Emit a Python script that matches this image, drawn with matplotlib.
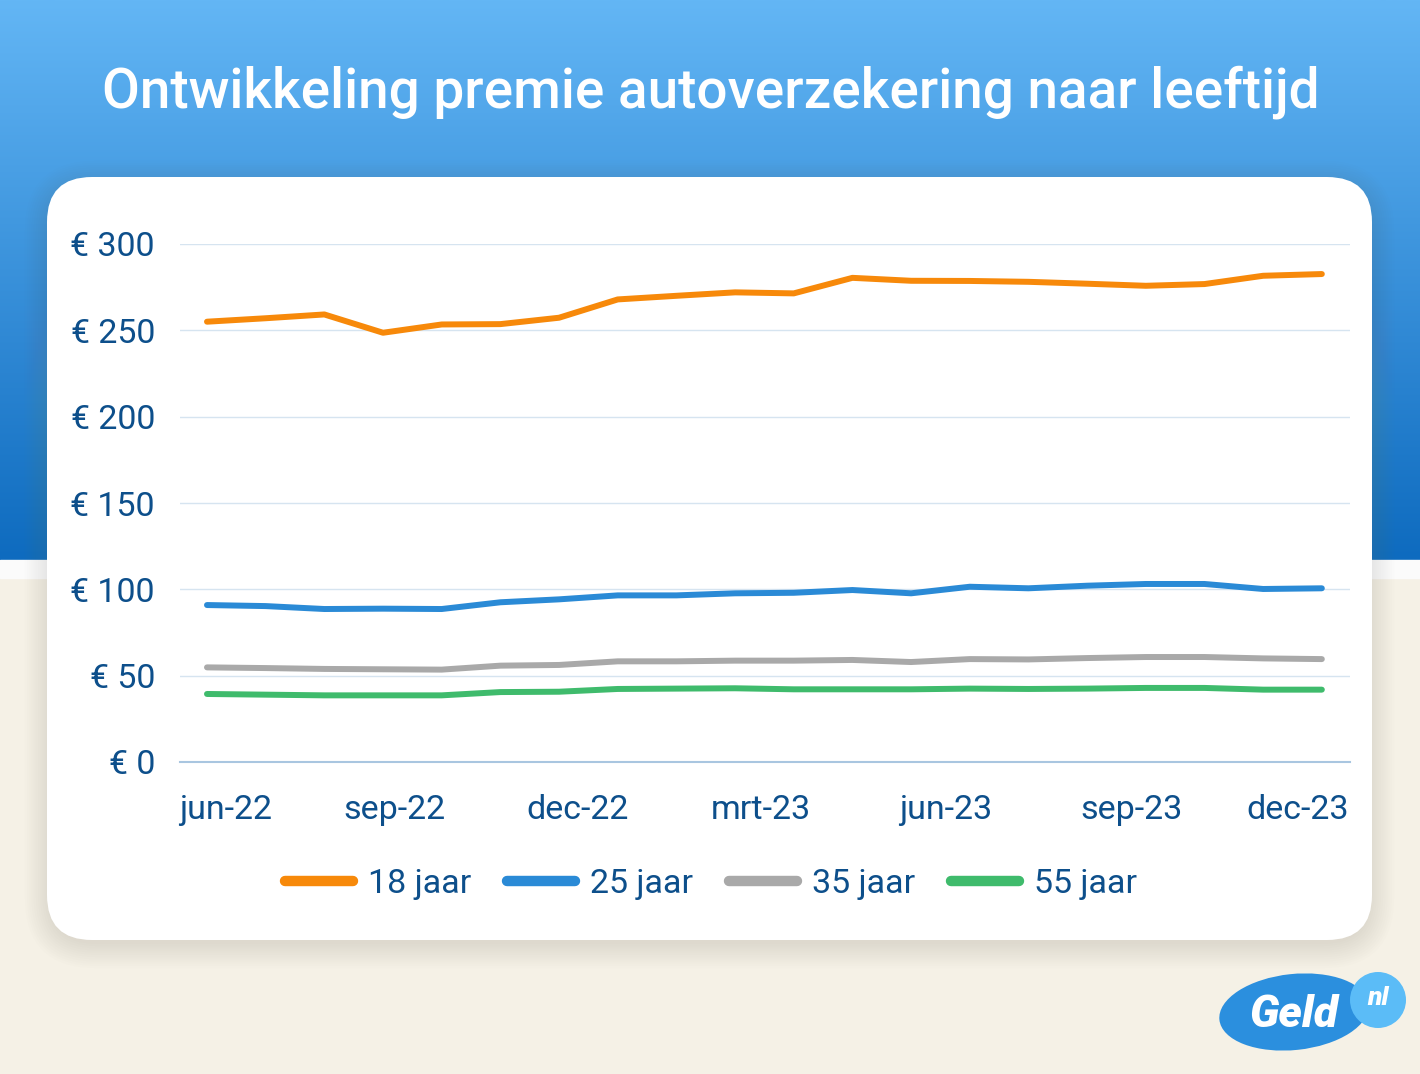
import numpy as np
import matplotlib
matplotlib.use('Agg')
import matplotlib.pyplot as plt
from matplotlib.patches import FancyBboxPatch, Ellipse, Circle

plt.rcParams['font.family'] = ['Roboto', 'DejaVu Sans']

# data
months = np.arange(20)
premie_18 = [255.0, 257.0, 259.2, 248.6, 253.4, 253.6, 257.3, 267.9, 270.0, 272.0,
             271.4, 280.4, 278.7, 278.6, 278.1, 277.0, 275.8, 276.8, 281.6, 282.6]
premie_25 = [90.9, 90.3, 88.6, 88.8, 88.6, 92.5, 94.2, 96.5, 96.5, 97.7,
             98.0, 99.6, 97.7, 101.5, 100.6, 102.1, 103.1, 103.1, 100.2, 100.6]
premie_35 = [54.8, 54.4, 53.9, 53.7, 53.5, 55.8, 56.2, 58.3, 58.3, 58.7,
             58.7, 59.1, 57.9, 59.6, 59.4, 60.2, 60.8, 60.8, 60.0, 59.6]
premie_55 = [39.4, 39.0, 38.6, 38.6, 38.6, 40.5, 40.7, 42.3, 42.5, 42.7,
             42.1, 42.1, 42.1, 42.5, 42.3, 42.5, 42.9, 42.9, 41.9, 41.9]
series = [('18 jaar', premie_18, '#f7890a'),
          ('25 jaar', premie_25, '#2a8ad6'),
          ('35 jaar', premie_35, '#a9a9a9'),
          ('55 jaar', premie_55, '#3fbb6c')]
tick_pos = [0.31, 3.20, 6.32, 9.44, 12.58, 15.75, 18.59]
tick_labels = ['jun-22', 'sep-22', 'dec-22', 'mrt-23', 'jun-23', 'sep-23', 'dec-23']
y_ticks = [0, 50, 100, 150, 200, 250, 300]

W, H = 1420, 1074
fig = plt.figure(figsize=(W / 100, H / 100), dpi=100)

# background in pixel coords
bg = fig.add_axes([0, 0, 1, 1])
bg.set_xlim(0, W)
bg.set_ylim(H, 0)
bg.axis('off')
bg.add_patch(plt.Rectangle((0, 0), W, H, color='#f5f1e6', zorder=0))
grad = np.linspace(0, 1, 256)[:, None]
top = np.array([0x63, 0xb6, 0xf5]) / 255
bot = np.array([0x0e, 0x6b, 0xbf]) / 255
img = top[None, None, :] * (1 - grad[..., None]) + bot[None, None, :] * grad[..., None]
bg.imshow(img, extent=(0, W, 560, 0), aspect='auto', zorder=1)
bg.add_patch(plt.Rectangle((0, 560), W, 18, color='#fbfbfb', zorder=1))

# card shadow + card
for i in range(12):
    g = 2 + i * 2.2
    bg.add_patch(FancyBboxPatch((47 - g + 4, 177 - g + 10), 1325 + 2 * g - 8, 763 + 2 * g - 8,
                                boxstyle='round,pad=0,rounding_size=%d' % (45 + g),
                                fc='#8a8060', ec='none', alpha=0.012, zorder=2))
bg.add_patch(FancyBboxPatch((47, 177), 1325, 763, boxstyle='round,pad=0,rounding_size=45',
                            fc='white', ec='none', zorder=3))

bg.text(711, 92, 'Ontwikkeling premie autoverzekering naar leeftijd', color='white',
        fontsize=39.5, fontweight='medium', ha='center', va='center', zorder=4)

# logo
bg.add_patch(Ellipse((1294, 1012), 150, 76, angle=-6, fc='#2b8fde', ec='none', zorder=4))
bg.add_patch(Circle((1378, 1000), 28, fc='#5bbcf7', ec='none', zorder=5))
bg.text(1294, 1015, 'Geld', color='white', fontsize=32, fontweight='heavy',
        fontstyle='italic', ha='center', va='center', zorder=6)
bg.text(1378, 998, 'nl', color='white', fontsize=19, fontweight='heavy',
        fontstyle='italic', ha='center', va='center', zorder=6)

# chart
ax = fig.add_axes([180 / W, 1 - 762 / H, 1170 / W, 518 / H])
ax.patch.set_alpha(0)
for lab, vals, col in series:
    ax.plot(months, vals, color=col, lw=4.3, solid_capstyle='round', label=lab,
            clip_on=False, zorder=3)
ax.set_xlim(-0.46, 19.48)
ax.set_ylim(0, 300)
ax.set_yticks(y_ticks)
ax.set_yticklabels(['€ %d' % v for v in y_ticks])
ax.set_xticks(tick_pos)
ax.set_xticklabels(tick_labels)
ax.grid(axis='y', color='#d6e4f0', lw=1)
ax.tick_params(length=0, labelsize=24.5, labelcolor='#0d4f8b')
ax.tick_params(axis='y', pad=18)
ax.tick_params(axis='x', pad=23)
for s in ['top', 'right', 'left']:
    ax.spines[s].set_visible(False)
ax.spines['bottom'].set_color('#a9c6e0')
ax.spines['bottom'].set_linewidth(1.5)

leg = fig.legend(loc='center', bbox_to_anchor=(711 / W, 1 - 884 / H), ncol=4, frameon=False,
                 fontsize=24.5, handlelength=2.0, handletextpad=0.44, columnspacing=1.05)
for t in leg.get_texts():
    t.set_color('#0d4f8b')
for h in leg.legend_handles:
    h.set_linewidth(7.5)
    h.set_solid_capstyle('round')

fig.savefig('out.png', dpi=100)
